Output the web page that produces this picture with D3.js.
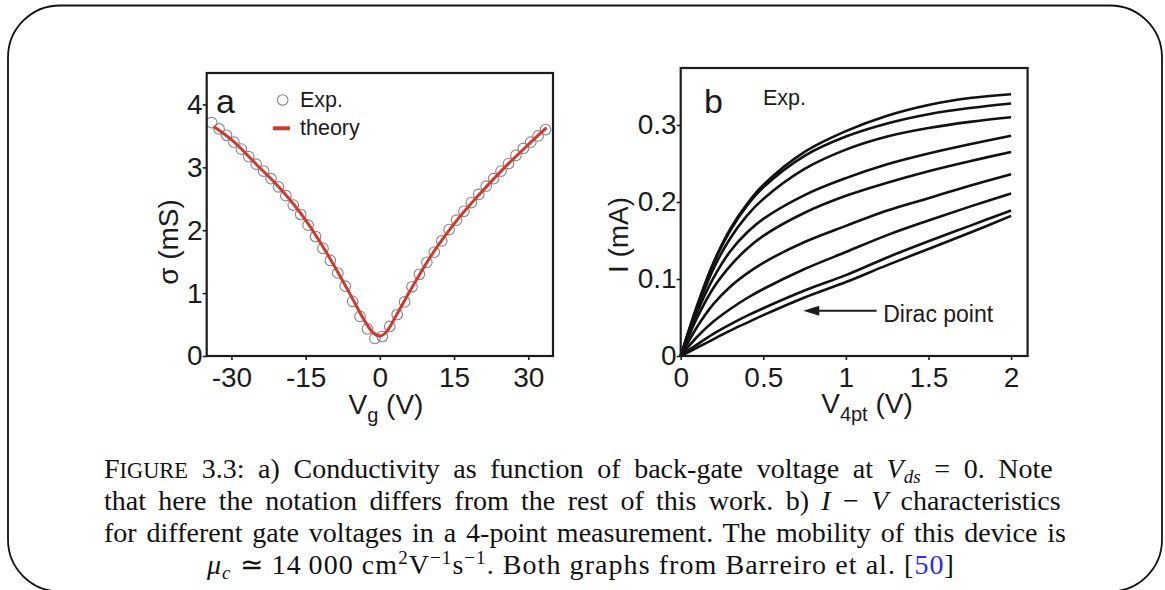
<!DOCTYPE html>
<html><head><meta charset="utf-8">
<script src="https://cdn.jsdelivr.net/npm/d3@7"></script>
<style>body{margin:0;background:#fff}svg{display:block}</style>
</head><body>
<svg width="1165" height="590"></svg>
<script>
// panel a: conductivity vs gate voltage
const vg=[-34,-32.5,-31,-29.5,-28,-26.5,-25,-23.5,-22,-20.5,-19,-17.5,-16,-14.5,-13,-11.5,-10,-8.5,-7,-5.5,-4,-2.5,-1,0.5,2,3.5,5,6.5,8,9.5,11,12.5,14,15.5,17,18.5,20,21.5,23,24.5,26,27.5,29,30.5,32,33.5]
const sigma=[3.71,3.61,3.51,3.40,3.29,3.17,3.05,2.94,2.82,2.69,2.55,2.40,2.25,2.08,1.90,1.71,1.52,1.32,1.11,0.87,0.63,0.43,0.28,0.31,0.47,0.66,0.86,1.10,1.30,1.49,1.65,1.83,2.01,2.16,2.30,2.44,2.57,2.70,2.82,2.94,3.06,3.19,3.30,3.40,3.50,3.60]
const vgTheory=[-33.6,-30,-25,-20,-15,-10,-6,-3,-1.5,0,1.5,3,6,10,15,20,25,30,33.7]
const sigmaTheory=[3.65,3.44,3.05,2.65,2.16,1.54,0.98,0.55,0.38,0.32,0.40,0.60,1.02,1.55,2.10,2.56,2.98,3.36,3.63]
const vgTicks=[-30,-15,0,15,30]
const sigmaTicks=[0,1,2,3,4]

// panel b: I-V curves
const v4pt=[0,0.1,0.2,0.3,0.4,0.5,0.75,1,1.25,1.5,1.75,2]
const c1=[0,0.066,0.122,0.165,0.197,0.222,0.265,0.292,0.312,0.326,0.335,0.340]
const c2=[0,0.065,0.121,0.163,0.195,0.219,0.260,0.285,0.302,0.314,0.322,0.328]
const c3=[0,0.062,0.114,0.153,0.182,0.204,0.243,0.268,0.285,0.296,0.304,0.310]
const c4=[0,0.057,0.102,0.136,0.160,0.178,0.209,0.231,0.249,0.263,0.275,0.286]
const c5=[0,0.050,0.089,0.117,0.139,0.156,0.186,0.208,0.225,0.240,0.253,0.265]
const c6=[0,0.038,0.068,0.090,0.107,0.121,0.148,0.169,0.189,0.205,0.221,0.236]
const c7=[0,0.025,0.045,0.061,0.075,0.087,0.113,0.135,0.157,0.176,0.194,0.211]
const c8=[0,0.015,0.029,0.041,0.052,0.062,0.085,0.105,0.128,0.149,0.169,0.189]
const c9=[0,0.011,0.022,0.033,0.043,0.053,0.076,0.096,0.118,0.139,0.160,0.182]
const curves=[c1,c2,c3,c4,c5,c6,c7,c8,c9]
const vTicks=[0,0.5,1,1.5,2]
const iTicks=[0,0.1,0.2,0.3]
// Dirac point arrow, in data units
const dirac={tip:[0.742,0.0588],tail:[1.186,0.0588],label:[1.226,0.0445]}

const svg=d3.select("svg")
const sans="Liberation Sans, Arial, sans-serif"
const serif="Liberation Serif, Times New Roman, serif"
const ink="#1b1b1b"

svg.append("rect").attr("x",8).attr("y",5.5).attr("width",1154).attr("height",586).attr("rx",52)
.attr("fill","none").attr("stroke","#111").attr("stroke-width",1.8)

tickStyle=(g)=>{
g.select(".domain").remove()
g.selectAll("line").attr("stroke",ink).attr("stroke-width",1.6)
g.selectAll("text").attr("font-family",sans).attr("font-size",28).attr("fill",ink)
}
box=(x,y)=>{
svg.append("rect").attr("x",x.range()[0]).attr("y",y.range()[1])
.attr("width",x.range()[1]-x.range()[0]).attr("height",y.range()[0]-y.range()[1])
.attr("fill","none").attr("stroke",ink).attr("stroke-width",2.2)
}

// ---- a
const xa=d3.scaleLinear().domain([-35,35]).range([206.7,553])
const ya=d3.scaleLinear().domain([0,4.5]).range([356,73])

svg.append("g").attr("transform","translate(0,356)")
.call(d3.axisBottom(xa).tickValues(vgTicks).tickSize(4).tickPadding(7).tickFormat(d=>String(d))).call(tickStyle)
svg.append("g").attr("transform","translate(206.7,0)")
.call(d3.axisLeft(ya).tickValues(sigmaTicks).tickSize(4).tickPadding(0).tickFormat(d=>String(d))).call(tickStyle)

svg.append("g").selectAll("circle").data(vg).join("circle")
.attr("cx",d=>xa(d)).attr("cy",(d,i)=>ya(sigma[i])).attr("r",5.3)
.attr("fill","none").attr("stroke","#858585").attr("stroke-width",1.1)

const lineA=d3.line().x(d=>xa(d[0])).y(d=>ya(d[1])).curve(d3.curveMonotoneX)
svg.append("path").attr("d",lineA(d3.zip(vgTheory,sigmaTheory)))
.attr("fill","none").attr("stroke","#d2382c").attr("stroke-width",3)
box(xa,ya)

svg.append("text").attr("x",216).attr("y",113).attr("font-family",sans).attr("font-size",34).attr("fill",ink).text("a")
svg.append("circle").attr("cx",282.7).attr("cy",100).attr("r",5.3).attr("fill","none").attr("stroke","#858585").attr("stroke-width",1.1)
svg.append("text").attr("x",300).attr("y",107).attr("font-family",sans).attr("font-size",21.5).attr("fill",ink).text("Exp.")
svg.append("line").attr("x1",273).attr("x2",290).attr("y1",128.3).attr("y2",128.3).attr("stroke","#d2382c").attr("stroke-width",4)
svg.append("text").attr("x",300).attr("y",135).attr("font-family",sans).attr("font-size",21.5).attr("fill",ink).text("theory")

svg.append("text").attr("transform","translate(178,242) rotate(-90)").attr("text-anchor","middle")
.attr("font-family",sans).attr("font-size",28).attr("fill",ink).text("σ (mS)")
let ta=svg.append("text").attr("x",386).attr("y",414).attr("text-anchor","middle").attr("font-family",sans).attr("font-size",28).attr("fill",ink)
ta.append("tspan").text("V")
ta.append("tspan").attr("font-size",20).attr("dy",8).text("g")
ta.append("tspan").attr("dy",-8).text(" (V)")

// ---- b
const xb=d3.scaleLinear().domain([0,2.1]).range([680.7,1027.6])
const yb=d3.scaleLinear().domain([0,0.374]).range([356,68])

svg.append("g").attr("transform","translate(0,356)")
.call(d3.axisBottom(xb).tickValues(vTicks).tickSize(4).tickPadding(7).tickFormat(d=>String(d))).call(tickStyle)
svg.append("g").attr("transform","translate(680.7,0)")
.call(d3.axisLeft(yb).tickValues(iTicks).tickSize(4).tickPadding(0).tickFormat(d=>String(d))).call(tickStyle)

const lineB=d3.line().x((d,i)=>xb(v4pt[i])).y(d=>yb(d)).curve(d3.curveCatmullRom.alpha(0.5))
svg.append("g").selectAll("path").data(curves).join("path").attr("d",d=>lineB(d))
.attr("fill","none").attr("stroke","#111").attr("stroke-width",2.6)
box(xb,yb)

svg.append("text").attr("x",704).attr("y",113).attr("font-family",sans).attr("font-size",34).attr("fill",ink).text("b")
svg.append("text").attr("x",763).attr("y",105).attr("font-family",sans).attr("font-size",21.5).attr("fill",ink).text("Exp.")

let ax=xb(dirac.tip[0]),ay=yb(dirac.tip[1])
svg.append("line").attr("x1",xb(dirac.tail[0])).attr("x2",ax+10).attr("y1",ay).attr("y2",ay).attr("stroke",ink).attr("stroke-width",2)
svg.append("path").attr("d",`M${ax},${ay}L${ax+16},${ay-5}L${ax+16},${ay+5}Z`).attr("fill",ink)
svg.append("text").attr("x",xb(dirac.label[0])).attr("y",yb(dirac.label[1])).attr("font-family",sans).attr("font-size",23).attr("fill",ink).text("Dirac point")

svg.append("text").attr("transform","translate(628,235) rotate(-90)").attr("text-anchor","middle")
.attr("font-family",sans).attr("font-size",28).attr("fill",ink).text("I (mA)")
let tb=svg.append("text").attr("x",867).attr("y",413).attr("text-anchor","middle").attr("font-family",sans).attr("font-size",28).attr("fill",ink)
tb.append("tspan").text("V")
tb.append("tspan").attr("font-size",20).attr("dy",8).text("4pt")
tb.append("tspan").attr("dy",-8).text(" (V)")

// ---- caption
const fs=28
const sub=19
cap=(y)=>svg.append("text").attr("y",y).attr("font-family",serif).attr("font-size",fs).attr("fill","#111")
justify=(t,x0,x1)=>{
t.attr("x",x0)
let w=t.node().getComputedTextLength()
let n=(t.text().match(/ /g)||[]).length
t.attr("word-spacing",(x1-x0-w)/n)
}
let l1=cap(478)
l1.append("tspan").text("F")
l1.append("tspan").attr("font-size",fs*0.8).text("IGURE")
l1.append("tspan").text(" 3.3:  a) Conductivity as function of back-gate voltage at ")
l1.append("tspan").attr("font-style","italic").text("V")
l1.append("tspan").attr("font-style","italic").attr("font-size",sub).attr("dy",5).text("ds")
l1.append("tspan").attr("dy",-5).text(" = 0.  Note")
justify(l1,104,1066)

let l2=cap(510)
l2.append("tspan").text("that here the notation differs from the rest of this work.  b) ")
l2.append("tspan").attr("font-style","italic").text("I")
l2.append("tspan").text(" − ")
l2.append("tspan").attr("font-style","italic").text("V")
l2.append("tspan").text(" characteristics")
justify(l2,104,1066)

let l3=cap(542)
l3.append("tspan").text("for different gate voltages in a 4-point measurement. The mobility of this device is")
justify(l3,104,1066)

// last line is centred, widened a little by letter spacing
let l4=cap(574).attr("x",581).attr("text-anchor","middle")
l4.append("tspan").attr("font-style","italic").text("μ")
l4.append("tspan").attr("font-style","italic").attr("font-size",sub).attr("dy",5).text("c")
l4.append("tspan").attr("dy",-5).text(" ≃ 14\u2009000 cm")
l4.append("tspan").attr("font-size",sub).attr("dy",-10).text("2")
l4.append("tspan").attr("dy",10).text("V")
l4.append("tspan").attr("font-size",sub).attr("dy",-10).text("−1")
l4.append("tspan").attr("dy",10).text("s")
l4.append("tspan").attr("font-size",sub).attr("dy",-10).text("−1")
l4.append("tspan").attr("dy",10).text(". Both graphs from Barreiro et al. [")
l4.append("tspan").attr("fill","#2a2aff").text("50")
l4.append("tspan").text("]")
let w4=l4.node().getComputedTextLength()
l4.attr("letter-spacing",(748-w4)/l4.text().length)
</script></body></html>
